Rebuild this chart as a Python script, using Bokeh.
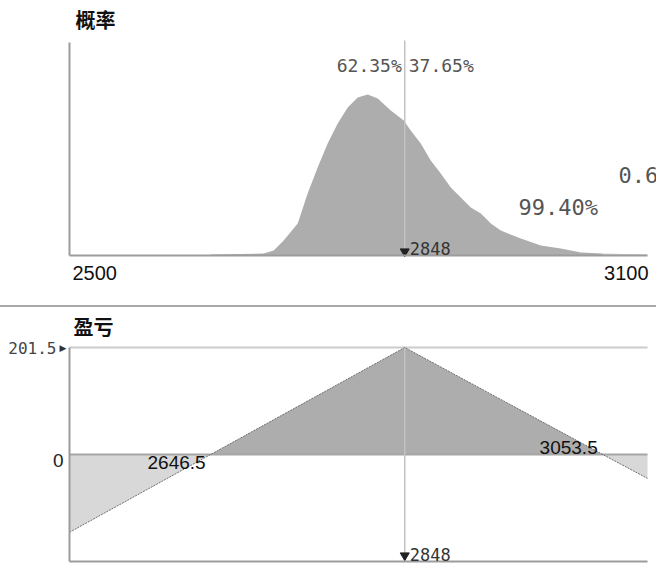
from bokeh.plotting import figure
from bokeh.models import Range1d, Label, LinearAxis, FixedTicker, Div
from bokeh.layouts import column
from bokeh.embed import file_html
from bokeh.resources import INLINE

# ---------------- data ----------------
x_min, x_max = 2500, 3100
pivot = 2848
breakevens = [2646.5, 3053.5]
max_profit = 201.5

# probability density (arbitrary units)
dist_price = [2646.5, 2701.5, 2712.0, 2722.3, 2736.9, 2747.2, 2757.6, 2768.0, 2778.4,
              2788.8, 2799.2, 2809.6, 2820.0, 2833.5, 2847.0, 2854.2, 2864.6, 2875.0,
              2885.4, 2895.8, 2906.2, 2916.6, 2927.0, 2937.4, 2947.7, 2968.5, 2989.3,
              3010.1, 3030.9, 3053.5]
dist_value = [0.01, 0.02, 0.05, 0.15, 0.32, 0.62, 0.88, 1.12, 1.32,
              1.48, 1.58, 1.61, 1.57, 1.45, 1.35, 1.25, 1.12, 0.95,
              0.82, 0.68, 0.58, 0.48, 0.42, 0.32, 0.25, 0.17, 0.10,
              0.07, 0.03, 0.02]
tail_price = [3053.5, 3075.0, 3100.0]
tail_value = [0.02, 0.015, 0.01]
dist_top = 2.13

prob_left, prob_right = "62.35%", "37.65%"
prob_inside, prob_outside = "99.40%", "0.60%"

# profit / loss at expiry
pl_price = [2500, 2646.5, 2848, 3053.5, 3100]
pl_value = [-146.5, 0, 201.5, 0, -45]

tick_labels = ["2500", "3100"]
titles = ["概率", "盈亏"]

# ---------------- layout constants (pixels) ----------------
W = 656
FRAME_L, FRAME_R = 69, 647            # x pixel of x_min / x_max
px_per_x = (FRAME_R - FRAME_L) / (x_max - x_min)
xr_start = x_min - FRAME_L / px_per_x
xr_end = x_max + (W - FRAME_R) / px_per_x

TOP_H, TOP_Y0, TOP_Y1 = 305, 255, 42   # height, pixel of 0, pixel of dist_top
BOT_H, BOT_YT, BOT_YB = 261, 40, 254   # height, pixel of +max, pixel of -max

MONO = "DejaVu Sans Mono"
SANS = "Liberation Sans"
CJK = "Noto Sans CJK SC"
DARK_FILL = "#adadad"
LIGHT_FILL = "#d8d8d8"
AXIS = "#9c9c9c"


def line_axis(loc, bounds, color=AXIS, width=2):
    return LinearAxis(fixed_location=loc, bounds=bounds, ticker=FixedTicker(ticks=[]),
                      axis_line_color=color, axis_line_width=width,
                      major_tick_line_color=None, minor_tick_line_color=None,
                      major_tick_in=0, major_tick_out=0, minor_tick_in=0, minor_tick_out=0,
                      major_label_standoff=0, major_label_text_font_size="0px")


def base_fig(h, yr):
    p = figure(width=W, height=h, x_range=Range1d(xr_start, xr_end), y_range=yr,
               output_backend="svg", toolbar_location=None,
               x_axis_type=None, y_axis_type=None,
               min_border=0)
    p.outline_line_color = None
    p.background_fill_color = "white"
    p.border_fill_color = "white"
    return p


# ---------------- top: probability ----------------
py = dist_top / (TOP_Y0 - TOP_Y1)      # data units per pixel
top = base_fig(TOP_H, Range1d(-(TOP_H - TOP_Y0) * py, dist_top + TOP_Y1 * py))
top.add_layout(line_axis(0, (x_min, x_max)), "below")
top.add_layout(line_axis(x_min, (0, dist_top)), "left")

top.varea(x=dist_price, y1=[0] * len(dist_price), y2=dist_value, fill_color=DARK_FILL)
top.varea(x=tail_price, y1=[0] * len(tail_price), y2=tail_value, fill_color="#cbcbcb")
top.segment(x0=[pivot], y0=[0], x1=[pivot], y1=[dist_top + 2 * py],
            line_color="#c2c2c2", line_width=1.5)

top.scatter(x=[pivot], y=[4 * py], marker="inverted_triangle", size=9, color="#222222")
top.add_layout(Label(x=pivot, y=0, x_offset=5, y_offset=1, text=str(pivot),
                     text_font=MONO, text_font_size="17px", text_color="#333333",
                     text_baseline="bottom"))

top.add_layout(Label(x=pivot, y=(TOP_Y0 - 65) * py, x_offset=-3, text=prob_left,
                     text_align="right", text_baseline="middle", text_font=MONO,
                     text_font_size="18px", text_color="#555555"))
top.add_layout(Label(x=pivot, y=(TOP_Y0 - 65) * py, x_offset=4, text=prob_right,
                     text_align="left", text_baseline="middle", text_font=MONO,
                     text_font_size="18px", text_color="#555555"))
top.add_layout(Label(x=x_min + (518 - FRAME_L) / px_per_x, y=(TOP_Y0 - 207) * py,
                     text=prob_inside, text_align="left", text_baseline="middle",
                     text_font=MONO, text_font_size="22px", text_color="#555555"))
top.add_layout(Label(x=x_min + (618 - FRAME_L) / px_per_x, y=(TOP_Y0 - 175) * py,
                     text=prob_outside, text_align="left", text_baseline="middle",
                     text_font=MONO, text_font_size="22px", text_color="#555555"))

top.add_layout(Label(x=x_min, y=(TOP_Y0 - 272) * py, x_offset=3, text=tick_labels[0],
                     text_align="left", text_baseline="middle", text_font=SANS,
                     text_font_size="20px", text_color="#111111"))
top.add_layout(Label(x=x_max, y=(TOP_Y0 - 272) * py, x_offset=1, text=tick_labels[1],
                     text_align="right", text_baseline="middle", text_font=SANS,
                     text_font_size="20px", text_color="#111111"))
top.add_layout(Label(x=x_min + 6 / px_per_x, y=(TOP_Y0 - 19) * py, text=titles[0],
                     text_align="left", text_baseline="middle", text_font=CJK,
                     text_font_style="bold", text_font_size="20px", text_color="#111111"))

sep = Div(width=W, height=2, margin=(0, 0, 0, 0),
          styles={"background-color": "#a9a9a9"})

# ---------------- bottom: profit / loss ----------------
by = 2 * max_profit / (BOT_YB - BOT_YT)
bot = base_fig(BOT_H, Range1d(-max_profit - (BOT_H - BOT_YB) * by, max_profit + BOT_YT * by))
bot.add_layout(line_axis(-max_profit, (x_min, x_max)), "below")
bot.add_layout(line_axis(x_min, (-max_profit, max_profit)), "left")

pos_x = pl_price[1:4]
pos_y = pl_value[1:4]
bot.varea(x=pos_x, y1=[0] * len(pos_x), y2=pos_y, fill_color=DARK_FILL)
bot.varea(x=pl_price[0:2], y1=pl_value[0:2], y2=[0, 0], fill_color=LIGHT_FILL)
bot.varea(x=pl_price[3:5], y1=pl_value[3:5], y2=[0, 0], fill_color=LIGHT_FILL)

bot.segment(x0=[x_min], y0=[max_profit], x1=[x_max], y1=[max_profit],
            line_color="#cccccc", line_width=2)
bot.segment(x0=[x_min], y0=[0], x1=[x_max], y1=[0], line_color="#a6a6a6", line_width=2)
bot.segment(x0=[pivot], y0=[-max_profit], x1=[pivot], y1=[max_profit],
            line_color="#c2c2c2", line_width=1.5)
bot.line(x=pl_price, y=pl_value, line_color="#6e6e6e", line_width=1, line_dash="2 1")

bot.scatter(x=[pivot], y=[-max_profit + 6 * by], marker="inverted_triangle", size=9,
            color="#222222")
bot.add_layout(Label(x=pivot, y=-max_profit, x_offset=5, y_offset=1, text=str(pivot),
                     text_font=MONO, text_font_size="17px", text_color="#333333",
                     text_baseline="bottom"))

bot.add_layout(Label(x=x_min, y=max_profit, x_offset=-13, text=str(max_profit),
                     text_align="right", text_baseline="middle", text_font=MONO,
                     text_font_size="16px", text_color="#444444"))
bot.add_layout(Label(x=x_min, y=max_profit, x_offset=-3, text="▶",
                     text_align="right", text_baseline="middle", text_font="DejaVu Sans",
                     text_font_size="9px", text_color="#333333"))
bot.add_layout(Label(x=x_min, y=0, x_offset=-6, y_offset=-6, text="0",
                     text_align="right", text_baseline="middle", text_font=SANS,
                     text_font_size="19px", text_color="#222222"))

bot.add_layout(Label(x=breakevens[0], y=0, x_offset=-5, y_offset=-1, text=str(breakevens[0]),
                     text_align="right", text_baseline="top", text_font=SANS,
                     text_font_size="19px", text_color="#111111"))
bot.add_layout(Label(x=breakevens[1], y=0, x_offset=-5, y_offset=1, text=str(breakevens[1]),
                     text_align="right", text_baseline="bottom", text_font=SANS,
                     text_font_size="19px", text_color="#111111"))
bot.add_layout(Label(x=x_min + 4 / px_per_x, y=max_profit + (BOT_YT - 19) * by, text=titles[1],
                     text_align="left", text_baseline="middle", text_font=CJK,
                     text_font_style="bold", text_font_size="20px", text_color="#111111"))

layout = column(top, sep, bot, spacing=0)

with open("out.html", "w") as f:
    f.write(file_html(layout, INLINE))
